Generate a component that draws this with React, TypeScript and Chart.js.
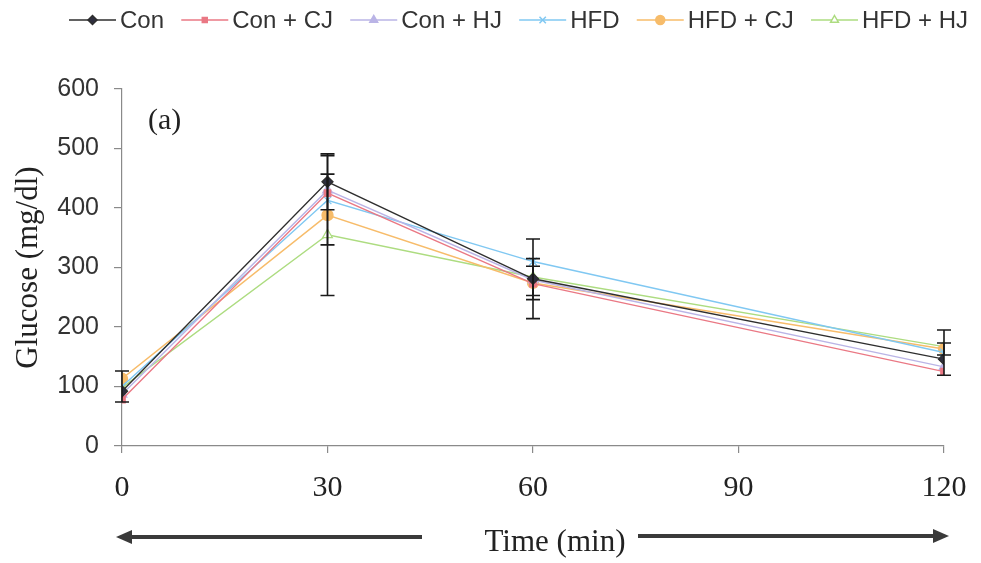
import React, { useEffect, useRef } from "react";
import { Chart, registerables } from "chart.js";
import { drawPoint } from "chart.js/helpers";

Chart.register(...registerables);

// ---- data ----
const timePoints = [0, 30, 60, 120];
const seriesNames = ["Con", "Con + CJ", "Con + HJ", "HFD", "HFD + CJ", "HFD + HJ"];
const conValues = [92, 444, 281, 146];
const conCjValues = [78, 425, 273, 125];
const conHjValues = [87, 430, 279, 133];
const hfdValues = [100, 413, 310, 157];
const hfdCjValues = [113, 388, 274, 163];
const hfdHjValues = [98, 355, 284, 167];
const conErrors = [null, 47, 67, null];
const conCjErrors = [null, null, null, null];
const conHjErrors = [null, null, null, null];
const hfdErrors = [26, 75, null, 38];
const hfdCjErrors = [null, null, 28, 10];
const hfdHjErrors = [null, 102, 31, null];
const xTickValues = [0, 30, 60, 90, 120];
const yTickValues = [0, 100, 200, 300, 400, 500, 600];
const panelLabel = "(a)";
const xTitle = "Time (min)";
const yTitle = "Glucose (mg/dl)";

const SERIF = '"Liberation Serif", "Times New Roman", serif';
const SANS = '"Liberation Sans", Arial, sans-serif';

const styles = [
  { color: "#2e2e2e", fill: "#2e2e3e", point: "rectRot", radius: 5.5 },
  { color: "#ea7884", fill: "#ea7884", point: "rect", radius: 4.5 },
  { color: "#bab4e6", fill: "#bab4e6", point: "triangle", radius: 5.5 },
  { color: "#80c8f2", fill: "#80c8f2", point: "crossRot", radius: 5.5 },
  { color: "#f7bc6a", fill: "#f7bc6a", point: "circle", radius: 5.5 },
  { color: "#addc80", fill: "#ffffff", point: "triangle", radius: 5.5 },
];

const allValues = [conValues, conCjValues, conHjValues, hfdValues, hfdCjValues, hfdHjValues];
const allErrors = [conErrors, conCjErrors, conHjErrors, hfdErrors, hfdCjErrors, hfdHjErrors];

const overlayPlugin = {
  id: "overlay",
  afterDatasetsDraw(chart: any) {
    const ctx = chart.ctx;
    const xs = chart.scales.x;
    const ys = chart.scales.y;
    ctx.save();
    ctx.strokeStyle = "#1a1a1a";
    ctx.lineWidth = 1.6;
    allErrors.forEach((errs, si) => {
      errs.forEach((e, i) => {
        if (e == null) return;
        const v = allValues[si][i];
        const x = xs.getPixelForValue(timePoints[i]);
        const yTop = ys.getPixelForValue(v + e);
        const yBot = ys.getPixelForValue(v - e);
        ctx.beginPath();
        ctx.moveTo(x, yTop);
        ctx.lineTo(x, yBot);
        ctx.moveTo(x - 7, yTop);
        ctx.lineTo(x + 7, yTop);
        ctx.moveTo(x - 7, yBot);
        ctx.lineTo(x + 7, yBot);
        ctx.stroke();
      });
    });
    ctx.restore();
  },
  afterDraw(chart: any) {
    const ctx = chart.ctx;
    ctx.save();
    // legend
    ctx.font = `24px ${SANS}`;
    const lineLen = 47;
    const textGap = 4;
    const widths = seriesNames.map((n) => ctx.measureText(n).width);
    const startX = 69;
    const endX = 968;
    const total = widths.reduce((a, b) => a + b, 0) + seriesNames.length * (lineLen + textGap);
    const itemGap = (endX - startX - total) / (seriesNames.length - 1);
    let x = startX;
    const ly = 20;
    seriesNames.forEach((name, i) => {
      const st = styles[i];
      ctx.strokeStyle = st.color;
      ctx.lineWidth = 1.5;
      ctx.beginPath();
      ctx.moveTo(x, ly);
      ctx.lineTo(x + lineLen, ly);
      ctx.stroke();
      ctx.fillStyle = st.fill;
      ctx.strokeStyle = st.color;
      drawPoint(ctx, { pointStyle: st.point, radius: st.radius - 1, borderWidth: 1.2, rotation: 0 }, x + lineLen / 2, ly);
      ctx.fillStyle = "#333";
      ctx.textAlign = "left";
      ctx.textBaseline = "middle";
      ctx.fillText(name, x + lineLen + textGap, ly + 1);
      x += lineLen + textGap + widths[i] + itemGap;
    });

    // panel label
    ctx.fillStyle = "#222";
    ctx.font = `30px ${SERIF}`;
    ctx.textAlign = "left";
    ctx.textBaseline = "middle";
    ctx.fillText(panelLabel, 148, 121);

    // x title with arrows
    ctx.font = `31px ${SERIF}`;
    ctx.textAlign = "center";
    ctx.textBaseline = "middle";
    ctx.fillText(xTitle, 555, 543);
    const ay = 537;
    ctx.strokeStyle = "#3a3a3a";
    ctx.fillStyle = "#3a3a3a";
    ctx.lineWidth = 4;
    ctx.beginPath();
    ctx.moveTo(422, ay);
    ctx.lineTo(130, ay);
    ctx.stroke();
    ctx.beginPath();
    ctx.moveTo(116, ay);
    ctx.lineTo(132, ay - 7);
    ctx.lineTo(132, ay + 7);
    ctx.closePath();
    ctx.fill();
    ctx.beginPath();
    ctx.moveTo(638, ay - 1);
    ctx.lineTo(934, ay - 1);
    ctx.stroke();
    ctx.beginPath();
    ctx.moveTo(949, ay - 1);
    ctx.lineTo(933, ay - 8);
    ctx.lineTo(933, ay + 6);
    ctx.closePath();
    ctx.fill();
    ctx.restore();
  },
};

export default function App() {
  const ref = useRef<HTMLCanvasElement | null>(null);
  useEffect(() => {
    document.body.style.margin = "0";
    const canvas = ref.current;
    if (!canvas) return;
    const datasets = seriesNames.map((name, i) => ({
      label: name,
      data: timePoints.map((t, j) => ({ x: t, y: allValues[i][j] })),
      borderColor: styles[i].color,
      backgroundColor: styles[i].fill,
      pointBorderColor: styles[i].color,
      pointBackgroundColor: styles[i].fill,
      pointStyle: styles[i].point,
      pointRadius: styles[i].radius,
      pointBorderWidth: 1.3,
      borderWidth: 1.4,
      tension: 0,
      fill: false,
    }));
    const chart = new Chart(canvas, {
      type: "line",
      data: { datasets },
      options: {
        responsive: false,
        animation: false,
        layout: { padding: { top: 89, right: 37, left: 0, bottom: 0 } },
        plugins: { legend: { display: false }, tooltip: { enabled: false }, title: { display: false } },
        scales: {
          x: {
            type: "linear",
            min: 0,
            max: 120,
            afterBuildTicks: (s: any) => {
              s.ticks = xTickValues.map((v) => ({ value: v }));
            },
            afterFit: (s: any) => {
              s.height = 117;
              s.paddingLeft = 0;
              s.paddingRight = 0;
            },
            ticks: {
              font: { family: SERIF, size: 30 },
              color: "#222",
              padding: 17,
              maxRotation: 0,
              autoSkip: false,
            },
            grid: { drawOnChartArea: false, drawTicks: true, tickLength: 7, color: "#8a8a8a", lineWidth: 1.2 },
            border: { display: true, color: "#8a8a8a", width: 1.2 },
          },
          y: {
            min: 0,
            max: 600,
            afterBuildTicks: (s: any) => {
              s.ticks = yTickValues.map((v) => ({ value: v }));
            },
            afterFit: (s: any) => {
              s.width = 122;
            },
            ticks: {
              font: { family: SANS, size: 25 },
              color: "#333",
              padding: 15,
              autoSkip: false,
            },
            title: {
              display: true,
              text: yTitle,
              font: { family: SERIF, size: 31 },
              color: "#222",
              padding: { top: 10, bottom: 0 },
            },
            grid: { drawOnChartArea: false, drawTicks: true, tickLength: 8, color: "#8a8a8a", lineWidth: 1.2 },
            border: { display: true, color: "#8a8a8a", width: 1.2 },
          },
        },
      },
      plugins: [overlayPlugin],
    });
    return () => chart.destroy();
  }, []);
  return (
    <div style={{ width: 981, height: 563, background: "#fff" }}>
      <canvas ref={ref} width={981} height={563} style={{ display: "block" }} />
    </div>
  );
}
